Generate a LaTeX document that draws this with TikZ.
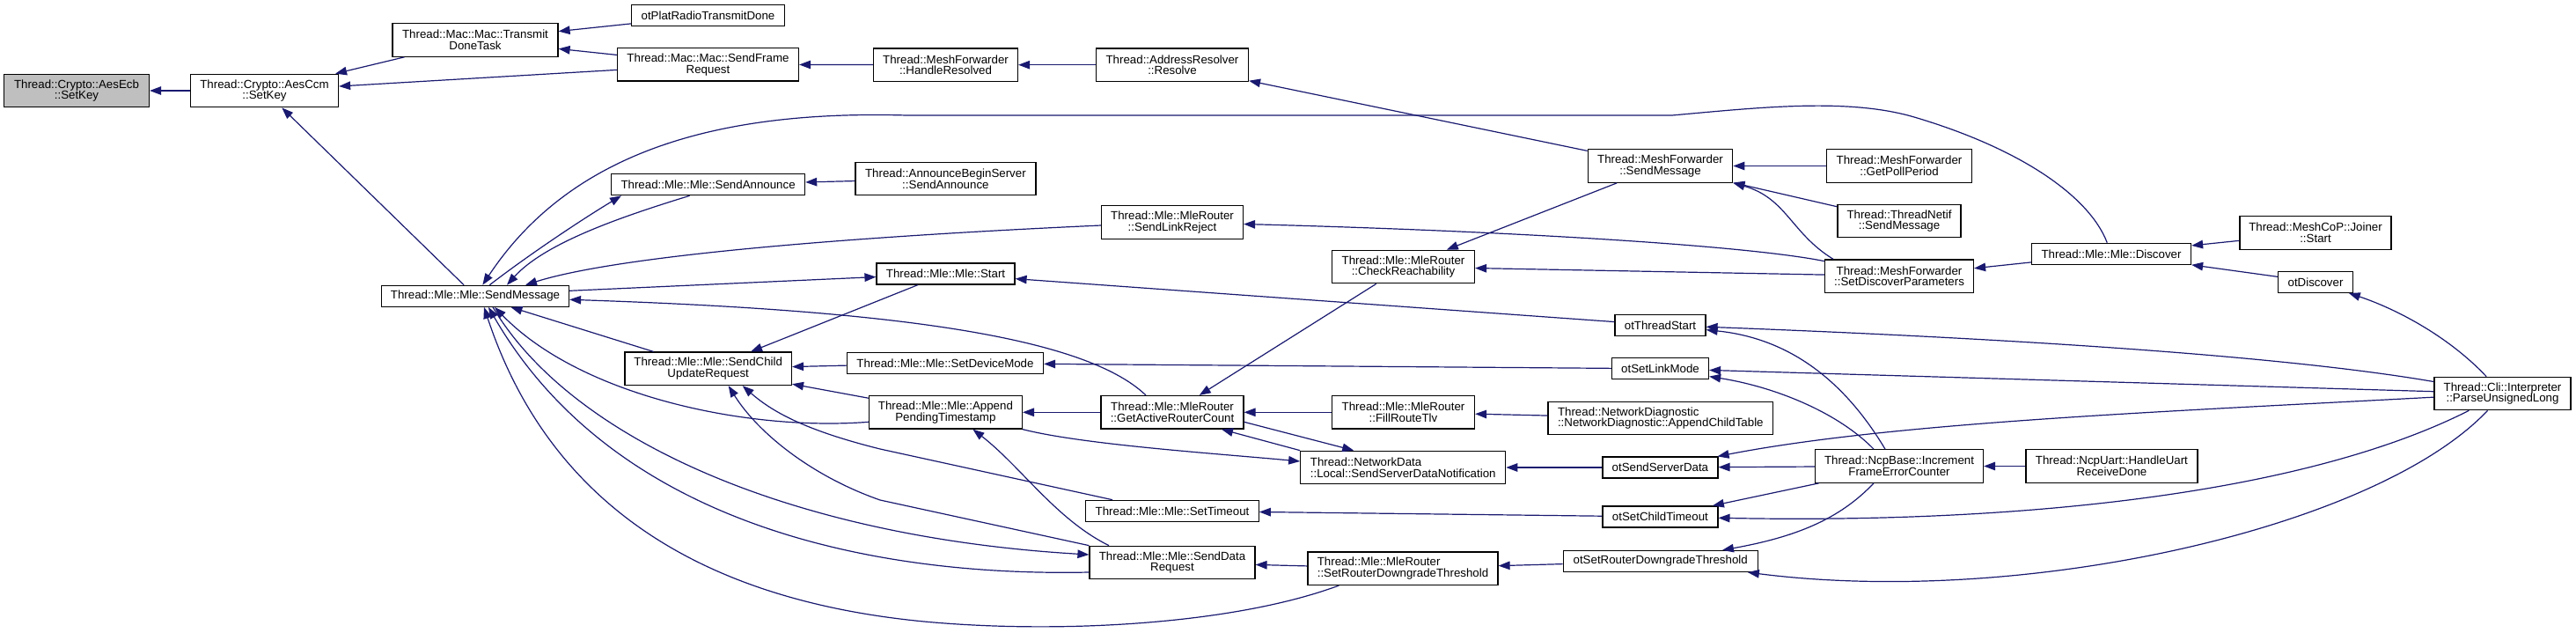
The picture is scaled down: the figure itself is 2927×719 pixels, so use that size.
\documentclass[tikz,border=0pt]{standalone}
\usepackage{fontspec}
\newfontfamily\cgfont{Liberation Sans}
\usepackage{tikz}
\usetikzlibrary{arrows.meta}
\definecolor{cgEdge}{HTML}{191970}
\definecolor{cgRoot}{HTML}{BFBFBF}
\tikzset{
  cg/fn/.style={draw=black, line width=1.2pt, fill=white, align=center, inner sep=0pt,
    font=\cgfont\fontsize{13.3}{12.7}\selectfont},
  cg/one/.style={cg/fn, minimum height=24pt},
  cg/two/.style={cg/fn, minimum height=37.5pt},
  cg/twoleft/.style={cg/two, align=left},
  cg/root/.style={cg/two, fill=cgRoot},
  cg/call/.style={draw=cgEdge, line width=1.2pt, -{Triangle[length=13pt,width=9.5pt]}}
}

\begin{document}
\begin{tikzpicture}[x=1pt, y=-1pt]
  \useasboundingbox (0,0) rectangle (2927,719);

  % rank 0 .. 3
  \node[cg/root, minimum width=165pt] (aesEcb) at (87,103) {Thread::Crypto::AesEcb\\::SetKey};
  \node[cg/two, minimum width=168pt] (aesCcm) at (300.5,103) {Thread::Crypto::AesCcm\\::SetKey};
  \node[cg/two, minimum width=188pt] (transmitDone) at (540,45.5) {Thread::Mac::Mac::Transmit\\DoneTask};
  \node[cg/one, minimum width=213pt] (sendMessage) at (540,336.3) {Thread::Mle::Mle::SendMessage};
  \node[cg/one, minimum width=174pt] (otPlatRadio) at (804.5,17.7) {otPlatRadioTransmitDone};
  \node[cg/two, minimum width=206pt] (sendFrame) at (804.5,73.3) {Thread::Mac::Mac::SendFrame\\Request};
  \node[cg/one, minimum width=220pt] (sendAnnounce) at (804.6,209.7) {Thread::Mle::Mle::SendAnnounce};
  \node[cg/two, minimum width=189.5pt] (sendChildUpdate) at (804.7,418.8) {Thread::Mle::Mle::SendChild\\UpdateRequest};

  % rank 4 .. 6
  \node[cg/two, minimum width=164pt] (handleResolved) at (1074.5,73.7) {Thread::MeshForwarder\\::HandleResolved};
  \node[cg/two, minimum width=205pt] (announceBegin) at (1074.4,203) {Thread::AnnounceBeginServer\\::SendAnnounce};
  \node[cg/one, minimum width=157pt] (mleStart) at (1074.5,311) {Thread::Mle::Mle::Start};
  \node[cg/one, minimum width=223pt] (setDeviceMode) at (1074,412.5) {Thread::Mle::Mle::SetDeviceMode};
  \node[cg/two, minimum width=174pt] (appendPending) at (1074.4,468.3) {Thread::Mle::Mle::Append\\PendingTimestamp};
  \node[cg/two, minimum width=173pt] (resolve) at (1332,73.7) {Thread::AddressResolver\\::Resolve};
  \node[cg/two, minimum width=161pt] (sendLinkReject) at (1332,252.4) {Thread::Mle::MleRouter\\::SendLinkReject};
  \node[cg/two, minimum width=162pt] (getActiveRouter) at (1332,468.3) {Thread::Mle::MleRouter\\::GetActiveRouterCount};
  \node[cg/one, minimum width=196.5pt] (setTimeout) at (1332,580.3) {Thread::Mle::Mle::SetTimeout};
  \node[cg/two, minimum width=188pt] (sendDataRequest) at (1332,639) {Thread::Mle::Mle::SendData\\Request};
  \node[cg/two, minimum width=162pt] (checkReach) at (1594.5,303) {Thread::Mle::MleRouter\\::CheckReachability};
  \node[cg/two, minimum width=162pt] (fillRouteTlv) at (1594.5,468.3) {Thread::Mle::MleRouter\\::FillRouteTlv};
  \node[cg/twoleft, minimum width=233pt] (sendServerDataNotif) at (1594.2,531) {Thread::NetworkData\\::Local::SendServerDataNotification};
  \node[cg/twoleft, minimum width=216pt] (setRouterDowngrade) at (1594,645.7) {Thread::Mle::MleRouter\\::SetRouterDowngradeThreshold};

  % rank 7 .. 11
  \node[cg/two, minimum width=164.5pt] (meshSendMessage) at (1886.5,188.5) {Thread::MeshForwarder\\::SendMessage};
  \node[cg/one, minimum width=103pt] (otThreadStart) at (1886.5,369.3) {otThreadStart};
  \node[cg/one, minimum width=110pt] (otSetLinkMode) at (1886.5,418.8) {otSetLinkMode};
  \node[cg/twoleft, minimum width=255.6pt] (appendChildTable) at (1886.8,475) {Thread::NetworkDiagnostic\\::NetworkDiagnostic::AppendChildTable};
  \node[cg/one, minimum width=131pt] (otSendServerData) at (1886.4,531) {otSendServerData};
  \node[cg/one, minimum width=131pt] (otSetChildTimeout) at (1886.4,587) {otSetChildTimeout};
  \node[cg/one, minimum width=221pt] (otSetRouterDowngrade) at (1886.7,637.5) {otSetRouterDowngradeThreshold};
  \node[cg/two, minimum width=165pt] (getPollPeriod) at (2158,188.5) {Thread::MeshForwarder\\::GetPollPeriod};
  \node[cg/two, minimum width=140pt] (netifSend) at (2158,251) {Thread::ThreadNetif\\::SendMessage};
  \node[cg/two, minimum width=169pt] (setDiscoverParams) at (2158,313.7) {Thread::MeshForwarder\\::SetDiscoverParameters};
  \node[cg/two, minimum width=191pt] (incrementFrame) at (2158,529.5) {Thread::NcpBase::Increment\\FrameErrorCounter};
  \node[cg/one, minimum width=181pt] (discover) at (2399,288.3) {Thread::Mle::Mle::Discover};
  \node[cg/two, minimum width=195pt] (handleUart) at (2399.4,529.5) {Thread::NcpUart::HandleUart\\ReceiveDone};
  \node[cg/two, minimum width=172pt] (joinerStart) at (2631,264.4) {Thread::MeshCoP::Joiner\\::Start};
  \node[cg/one, minimum width=84.5pt] (otDiscover) at (2631,320.3) {otDiscover};
  \node[cg/two, minimum width=155pt] (parseUnsigned) at (2843.5,447) {Thread::Cli::Interpreter\\::ParseUnsignedLong};

  % calls into the left half
  \draw[cg/call] (aesCcm) -- (aesEcb);
  \draw[cg/call] (transmitDone) -- (aesCcm);
  \draw[cg/call] (sendFrame) -- (aesCcm);
  \draw[cg/call] (sendMessage) -- (aesCcm);
  \draw[cg/call] (otPlatRadio) -- (transmitDone);
  \draw[cg/call] (sendFrame) -- (transmitDone);
  \draw[cg/call] (handleResolved) -- (sendFrame);
  \draw[cg/call] (resolve) -- (handleResolved);
  \draw[cg/call] (meshSendMessage) -- (resolve);
  \draw[cg/call] (discover) .. controls (2375,225) and (2300,170) .. (2175,133)
    .. controls (2100,111) and (2000,122) .. (1900,131) -- (1030,131)
    .. controls (820,125) and (650,170) .. (sendMessage);
  \draw[cg/call] (sendMessage) .. controls (600,290) and (660,250) .. ([xshift=12pt]sendAnnounce.south west);
  \draw[cg/call] ([xshift=-21pt]sendAnnounce.south) .. controls (710,245) and (620,275) .. ([xshift=36pt]sendMessage.north);
  \draw[cg/call] (announceBegin) -- (sendAnnounce);
  \draw[cg/call] (sendLinkReject) .. controls (1050,265) and (720,285) .. ([xshift=57pt]sendMessage.north);
  \draw[cg/call] ([yshift=6pt]sendMessage.east) -- (mleStart);
  \draw[cg/call] (otThreadStart) -- (mleStart);
  \draw[cg/call] (mleStart) -- (sendChildUpdate);
  \draw[cg/call] (sendChildUpdate) -- (sendMessage);
  \draw[cg/call] (setDeviceMode) -- (sendChildUpdate);
  \draw[cg/call] (appendPending) -- (sendChildUpdate);
  \draw[cg/call] ([yshift=-11pt]appendPending.west) .. controls (850,490) and (660,450) .. ([xshift=22pt]sendMessage.south);
  \draw[cg/call] (getActiveRouter) -- (appendPending);
  \draw[cg/call] ([xshift=-30pt]getActiveRouter.north) .. controls (1230,380) and (1000,352) .. ([yshift=-4pt]sendMessage.east);
  \draw[cg/call] ([xshift=36pt]setRouterDowngrade.south west) .. controls (1400,710) and (1200,720) .. (1050,706)
    .. controls (780,680) and (620,560) .. ([xshift=10pt]sendMessage.south);
  \draw[cg/call] ([yshift=-11pt]sendDataRequest.west) .. controls (1000,655) and (700,600) .. ([xshift=15pt]sendMessage.south);
  \draw[cg/call] ([xshift=20pt]sendMessage.south) .. controls (650,500) and (900,610) .. ([yshift=9pt]sendDataRequest.west);
  \draw[cg/call] (sendDataRequest.north west) -- (1000,568) .. controls (920,540) and (860,490) .. ([xshift=23pt]sendChildUpdate.south);
  \draw[cg/call] ([xshift=-68pt]setTimeout.north) -- (1000,510) .. controls (920,490) and (880,470) .. ([xshift=39pt]sendChildUpdate.south);
  \draw[cg/call] ([xshift=-72pt]sendDataRequest.north) .. controls (1200,590) and (1160,530) .. ([xshift=31pt]appendPending.south);

  % calls in the middle
  \draw[cg/call] (checkReach) -- (getActiveRouter);
  \draw[cg/call] (meshSendMessage) -- (checkReach);
  \draw[cg/call] (setDiscoverParams) -- (checkReach);
  \draw[cg/call] (setDiscoverParams) .. controls (1980,278) and (1700,262) .. (sendLinkReject);
  \draw[cg/call] ([xshift=-75pt]setDiscoverParams.north) .. controls (2035,265) and (2030,225) .. (meshSendMessage.south east);
  \draw[cg/call] (getPollPeriod) -- (meshSendMessage);
  \draw[cg/call] (netifSend) -- (meshSendMessage);
  \draw[cg/call] (fillRouteTlv) -- (getActiveRouter);
  \draw[cg/call] (appendChildTable) -- (fillRouteTlv);
  \draw[cg/call] ([yshift=-11pt]getActiveRouter.east) -- ([xshift=-56pt]sendServerDataNotif.north);
  \draw[cg/call] (sendServerDataNotif.north west) -- ([xshift=56pt]getActiveRouter.south);
  \draw[cg/call] (appendPending.south east) .. controls (1230,505) and (1380,515) .. ([yshift=7pt]sendServerDataNotif.west);
  \draw[cg/call] (otSendServerData) -- (sendServerDataNotif);
  \draw[cg/call] (otSetLinkMode) -- (setDeviceMode);
  \draw[cg/call] (otSetChildTimeout) -- (setTimeout);
  \draw[cg/call] (otSetRouterDowngrade) -- (setRouterDowngrade);
  \draw[cg/call] (setRouterDowngrade) -- (sendDataRequest);

  % calls from the right
  \draw[cg/call] (discover) -- (setDiscoverParams);
  \draw[cg/call] (joinerStart) -- (discover);
  \draw[cg/call] (otDiscover) -- (discover);
  \draw[cg/call] (handleUart) -- (incrementFrame);
  \draw[cg/call] (incrementFrame) -- (otSendServerData);
  \draw[cg/call] (incrementFrame) -- (otSetChildTimeout);
  \draw[cg/call] ([xshift=-16pt]incrementFrame.north) .. controls (2100,440) and (2040,385) .. (otThreadStart);
  \draw[cg/call] ([xshift=-29pt]incrementFrame.north) .. controls (2090,470) and (2020,440) .. (otSetLinkMode);
  \draw[cg/call] ([xshift=-29pt]incrementFrame.south) .. controls (2090,590) and (2040,610) .. (otSetRouterDowngrade);
  \draw[cg/call] (parseUnsigned) .. controls (2780,380) and (2720,350) .. (otDiscover);
  \draw[cg/call] (parseUnsigned) .. controls (2600,405) and (2300,385) .. (otThreadStart);
  \draw[cg/call] (parseUnsigned) -- (otSetLinkMode);
  \draw[cg/call] (parseUnsigned) .. controls (2450,468) and (2150,480) .. (otSendServerData);
  \draw[cg/call] (parseUnsigned) .. controls (2620,560) and (2300,595) .. (otSetChildTimeout);
  \draw[cg/call] ([xshift=-17pt]parseUnsigned.south) .. controls (2700,600) and (2300,690) .. (otSetRouterDowngrade);
\end{tikzpicture}
\end{document}
